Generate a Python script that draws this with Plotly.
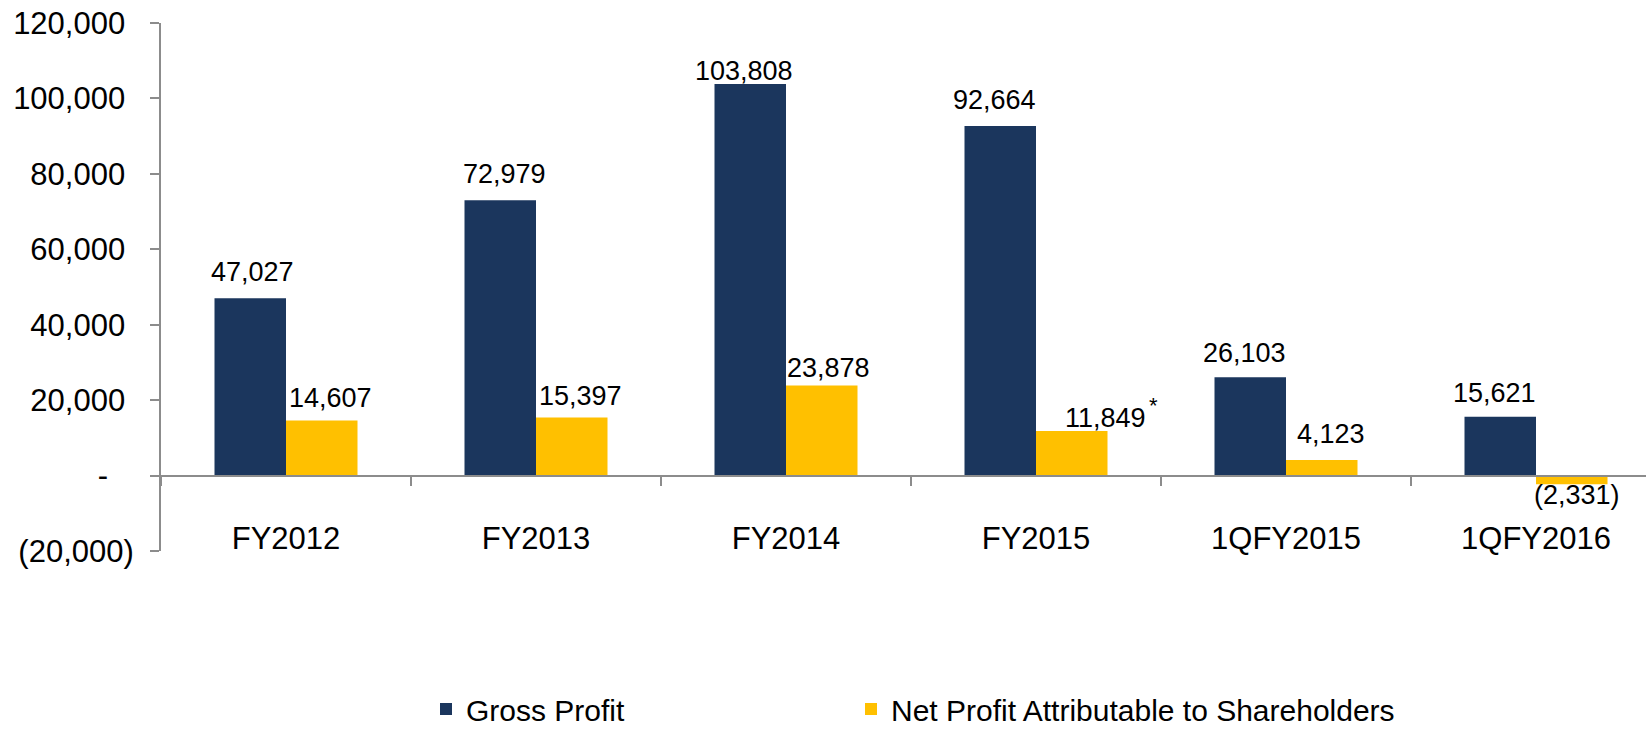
import plotly.graph_objects as go

categories = ["FY2012", "FY2013", "FY2014", "FY2015", "1QFY2015", "1QFY2016"]
gross_profit = [47027, 72979, 103808, 92664, 26103, 15621]
net_profit = [14607, 15397, 23878, 11849, 4123, -2331]
series_names = ["Gross Profit", "Net Profit Attributable to Shareholders"]
tick_vals = [-20000, 0, 20000, 40000, 60000, 80000, 100000, 120000]
tick_text = ["(20,000)", "-", "20,000", "40,000", "60,000", "80,000", "100,000", "120,000"]

# label nudges (pixels), styling only
gross_dx = [2, 4, -6, -6, -6, -6]
gross_dy = [9, 9, -4, 9, 7, 7]
net_dx = [8, 8, 6, 0, 9, 5]
net_dy = [5, 5, 1, -4, 9, 6]

NAVY = "#1B365D"
GOLD = "#FFC000"
AXIS = "#8C8C8C"
FONT = "Liberation Sans, Arial, sans-serif"
NB = "\u00A0"

L, T, B, W, H = 161, 23, 178, 1646, 729
PW, PH = W - L, H - T - B

def fmt(v):
    return f"({abs(v):,})" if v < 0 else f"{v:,}"

def tick_fmt(s):
    if s == "-":
        return s + NB * 3
    if s.startswith("("):
        return s
    return s + NB

fig = go.Figure()
fig.add_trace(go.Bar(x=categories, y=gross_profit, name=series_names[0], legend="legend",
                     marker=dict(color=NAVY, line=dict(width=0))))
fig.add_trace(go.Bar(x=categories, y=net_profit, name=series_names[1], legend="legend2",
                     marker=dict(color=GOLD, line=dict(width=0))))

lab_font = dict(size=27, color="black", family=FONT)
annotations = []
for i, c in enumerate(categories):
    g = gross_profit[i]
    annotations.append(dict(x=c, y=g, xref="x", yref="y", text=fmt(g), showarrow=False,
                            xshift=-36 + gross_dx[i], yanchor="bottom", yshift=gross_dy[i],
                            font=lab_font))
    n = net_profit[i]
    if n < 0:
        annotations.append(dict(x=c, y=n, xref="x", yref="y", text=fmt(n), showarrow=False,
                                xshift=36 + net_dx[i], yanchor="top", yshift=net_dy[i],
                                font=lab_font))
    else:
        annotations.append(dict(x=c, y=n, xref="x", yref="y", text=fmt(n), showarrow=False,
                                xshift=36 + net_dx[i] + (33 if c == "FY2015" else 0),
                                yanchor="bottom", yshift=net_dy[i], font=lab_font))
    if c == "FY2015":
        annotations.append(dict(x=c, y=n, xref="x", yref="y", text="*", showarrow=False,
                                xshift=117, xanchor="center", yanchor="bottom", yshift=11,
                                font=dict(size=22, color="black", family=FONT)))

legend_common = dict(orientation="h", xanchor="left", yanchor="middle",
                     y=(H - B - 709) / PH,
                     font=dict(size=30, family=FONT, color="black"),
                     bgcolor="rgba(0,0,0,0)")

fig.update_layout(
    width=W, height=H,
    margin=dict(l=L, r=0, t=T, b=B, autoexpand=False),
    plot_bgcolor="white", paper_bgcolor="white",
    barmode="group", bargap=0.428, bargroupgap=0,
    font=dict(family=FONT, color="black"),
    showlegend=True,
    legend=dict(x=(426 - L) / PW, **legend_common),
    legend2=dict(x=(851 - L) / PW, **legend_common),
    annotations=annotations,
    xaxis=dict(range=[-0.5, -0.5 + PW / 250], anchor="free", position=1 / 7,
               showline=True, linecolor=AXIS, linewidth=2,
               ticks="outside", ticklen=9, tickwidth=2, tickcolor=AXIS,
               tickson="boundaries", showgrid=False, zeroline=False,
               ticklabelstandoff=35, automargin=False,
               tickfont=dict(size=31, family=FONT, color="black")),
    yaxis=dict(range=[-20000, 120000], tickvals=tick_vals,
               ticktext=[tick_fmt(s) for s in tick_text],
               showline=True, linecolor=AXIS, linewidth=2,
               ticks="outside", ticklen=9, tickwidth=2, tickcolor=AXIS,
               showgrid=False, zeroline=False, ticklabelstandoff=10, automargin=False,
               tickfont=dict(size=31, family=FONT, color="black")),
)

fig.write_html("out.html", config={"displayModeBar": False},
               post_script="document.body.style.margin='0';document.body.style.overflow='hidden';")
